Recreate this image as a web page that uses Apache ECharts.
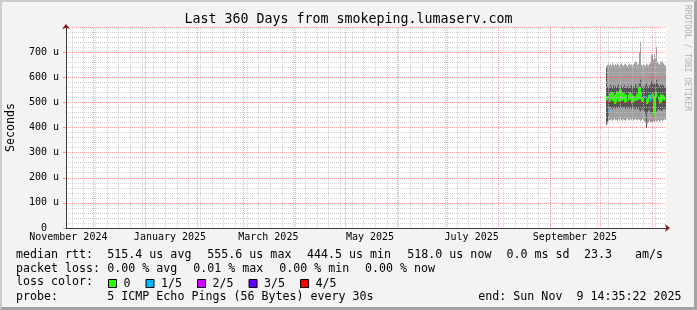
<!DOCTYPE html>
<html><head><meta charset="utf-8">
<script src="https://cdn.jsdelivr.net/npm/echarts@6/dist/echarts.min.js"></script>
<style>
html,body{margin:0;padding:0;background:#f3f3f3;}
#wrap{position:relative;width:697px;height:310px;overflow:hidden;}
#chart{position:absolute;left:0;top:0;width:697px;height:310px;}
#frame{position:absolute;left:0;top:0;width:697px;height:310px;box-sizing:border-box;border-top:2px solid #cccccc;border-left:2px solid #cccccc;border-right:3px solid #a3a3a3;border-bottom:3px solid #a3a3a3;pointer-events:none;}
</style></head>
<body><div id="wrap"><div id="chart"></div><div id="frame"></div></div>
<script>
// ---- time range ----
const rangeStart = '2024-11-14T14:35:22Z';
const rangeEnd = '2025-11-09T14:35:22Z';
const sampleStart = '2025-10-04T14:35:22Z';
const sampleStepSeconds = 51840;

// ---- smoke: sorted pings (microseconds), one value per consolidated step ----
const pingHigh = [643,650,655,648,652,645,657,650,646,653, 648,655,650,644,652,656,649,645,651,654, 648,643,650,655,647,652,645,650,656,663, 663,648,655,700,742,650,646,652,648,645, 655,650,647,653,660,690,688,670,692,675, 722,660,655,650,663,660,665,655,650,645];
const pingUpper = [643,560,565,558,570,562,555,568,560,565, 558,563,570,556,562,566,559,561,568,557, 563,560,566,558,562,569,557,563,560,572, 565,560,566,575,590,562,558,566,560,568, 575,563,558,566,570,585,578,570,575,572, 590,575,568,563,570,566,572,565,561,560];
const medianRtt = [523,512,466,505,532,515,538,508,525,498, 530,540,515,505,548,522,510,535,518,502, 528,506,510,526,536,514,500,524,512,508, 520,530,512,559,540,516,505,512,520,522, 510,498,514,526,505,528,536,518,450,522, 538,530,520,512,500,528,510,526,516,512];
const pingLower = [411,425,445,482,476,480,473,479,483,475, 480,477,484,478,473,480,476,482,479,474, 481,477,483,476,480,475,482,478,473,476, 480,474,478,470,465,476,472,470,466,455, 400,460,468,472,455,462,458,444,460,468, 463,470,474,468,472,466,470,475,472,476];
const pingLow = [411,415,425,430,428,432,426,430,435,428, 431,426,433,429,436,430,427,433,430,425, 432,436,428,431,434,429,433,427,431,435, 430,428,433,431,426,430,434,428,425,420, 398,415,420,425,418,422,418,425,420,428, 424,426,430,422,427,431,426,429,433,430];
const lostPings = [0,0,1,0,0,0,0,0,0,0, 0,0,0,0,0,0,0,0,0,0, 0,1,0,0,0,0,0,0,0,0, 0,0,0,0,0,0,0,0,1,1, 0,0,0,0,1,1,0,0,0,0, 0,1,0,0,0,0,0,0,0,0];

const lossLabels = ['0', '1/5', '2/5', '3/5', '4/5'];
const lossColors = ['#26ff00', '#00b8ff', '#d200ff', '#5e00ff', '#ff0000'];

// ---- axis ticks ----
const monthStarts = ['2024-12-01','2025-01-01','2025-02-01','2025-03-01','2025-04-01','2025-05-01','2025-06-01','2025-07-01','2025-08-01','2025-09-01','2025-10-01','2025-11-01'];
const monthLabelDates = ['2024-11-16','2025-01-16','2025-03-16','2025-05-16','2025-07-16','2025-09-16'];
const firstMonday = '2024-11-18';
const monthNames = ['January','February','March','April','May','June','July','August','September','October','November','December'];
const yMin = 0, yMax = 800, yStep = 100;

// ---- legend text ----
const titleText = 'Last 360 Days from smokeping.lumaserv.com';
const rowMedian = ['median rtt:', '515.4 us avg', '555.6 us max', '444.5 us min', '518.0 us now', '0.0 ms sd', '23.3', 'am/s'];
const rowLoss = ['packet loss:', '0.00 % avg', '0.01 % max', '0.00 % min', '0.00 % now'];
const rowLossColor = ['loss color:'];
const rowProbe = ['probe:', '5 ICMP Echo Pings (56 Bytes) every 30s', 'end: Sun Nov  9 14:35:22 2025'];
const sideText = 'RRDTOOL / TOBI OETIKER';

// ---------------------------------------------------------------
const MONO = '"DejaVu Sans Mono", monospace';
const START = Date.parse(rangeStart), END = Date.parse(rangeEnd);
const S0 = Date.parse(sampleStart), STEP = sampleStepSeconds * 1000;
const monthTicks = monthStarts.map(d => Date.parse(d + 'T00:00:00Z'));
const labelTicks = monthLabelDates.map(d => Date.parse(d + 'T00:00:00Z'));
const weekTicks = [];
for (let t = Date.parse(firstMonday + 'T00:00:00Z'); t < END; t += 7 * 86400000) weekTicks.push(t);

const smokeData = pingHigh.map((h, i) => [S0 + i * STEP, S0 + (i + 1) * STEP, pingLow[i], pingLower[i], pingUpper[i], h]);

const medianSeries = lossLabels.map((name, k) => {
  const data = [];
  medianRtt.forEach((m, i) => {
    if (lostPings[i] !== k) return;
    const prev = (i > 0 && lostPings[i - 1] === k) ? medianRtt[i - 1] : NaN;
    data.push([S0 + i * STEP, S0 + (i + 1) * STEP, m, prev]);
  });
  return {
    type: 'custom', name, z: 2, itemStyle: { color: lossColors[k] }, encode: { x: [0, 1], y: [2] }, data,
    renderItem(params, api) {
      const t0 = api.value(0), t1 = api.value(1), m = api.value(2), prev = api.value(3);
      const p0 = api.coord([t0, m]), p1 = api.coord([t1, m]);
      const pts = [];
      if (!isNaN(prev)) { const pp = api.coord([t0, prev]); pts.push([p0[0], pp[1]]); }
      pts.push(p0, p1);
      return { type: 'polyline', shape: { points: pts }, style: { stroke: lossColors[k], lineWidth: 2, fill: null } };
    }
  };
});

// dotted fill pattern (1px on / 1px off vertically) for vertical grid lines
function dotPattern(color) {
  const c = document.createElement('canvas'); c.width = 1; c.height = 2;
  const g = c.getContext('2d'); g.fillStyle = color; g.fillRect(0, 0, 1, 1);
  return { image: c, repeat: 'repeat' };
}
const majorGrid = 'rgba(255,0,0,0.38)';
const minorGrid = 'rgba(192,192,192,0.75)';
const majorPattern = dotPattern(majorGrid);
const minorPattern = dotPattern(minorGrid);

// vertical time grid lines as 1px filled columns (drawn over the smoke, like rrdtool)
function timeGridSeries(name, ticks, fill, z, below) {
  return {
    type: 'custom', name, z, silent: true, encode: { x: 0, y: 1 },
    data: ticks.map(t => [t, yMin]),
    renderItem(params, api) {
      const cs = params.coordSys;
      const x = Math.round(api.coord([api.value(0), yMin])[0]);
      return { type: 'rect', shape: { x: x, y: cs.y, width: 1, height: cs.height + below }, style: { fill: fill } };
    }
  };
}

function txt(x, y, s) {
  return { type: 'text', x, y, silent: true, style: { text: s, font: '11.65px ' + MONO, fill: '#000', verticalAlign: 'middle', align: 'left' } };
}
const rowY = [254.5, 268.5, 282.3, 296.5];
const medX = [16, 107.3, 207.3, 307, 407.3, 506.5, 584, 635];
const lossX = [16, 107.3, 193.3, 279.3, 365];
const probeX = [16, 107.3, 478.3];
const graphics = [];
rowMedian.forEach((s, i) => graphics.push(txt(medX[i], rowY[0], s)));
rowLoss.forEach((s, i) => graphics.push(txt(lossX[i], rowY[1], s)));
rowLossColor.forEach((s) => graphics.push(txt(16, rowY[2], s)));
rowProbe.forEach((s, i) => graphics.push(txt(probeX[i], rowY[3], s)));
graphics.push({ type: 'text', x: 687, y: 5, rotation: -Math.PI / 2, silent: true,
  style: { text: sideText, font: '8px ' + MONO, fill: '#b0b0b0', align: 'left', verticalAlign: 'middle' } });

const chart = echarts.init(document.getElementById('chart'), null, { renderer: 'canvas' });
chart.setOption({
  animation: false,
  backgroundColor: '#f3f3f3',
  title: { text: titleText, left: 'center', top: 12, padding: 0,
    textStyle: { fontFamily: MONO, fontSize: 13.3, fontWeight: 'normal', color: '#000', lineHeight: 15 } },
  grid: { left: 66, top: 27, width: 600, height: 201, show: true, backgroundColor: '#ffffff', borderWidth: 0,
    containLabel: false, outerBoundsMode: 'none' },
  legend: {
    data: lossLabels, left: 108, top: 277.5, padding: 0, itemWidth: 8, itemHeight: 8, itemGap: 15,
    icon: 'rect', selectedMode: false,
    itemStyle: { borderColor: '#000', borderWidth: 1 },
    textStyle: { fontFamily: MONO, fontSize: 11.65, color: '#000', padding: [0, 0, 0, 2] }
  },
  xAxis: [
    { type: 'value', min: START, max: END, position: 'bottom', z: 4,
      axisLine: { show: true, onZero: false, lineStyle: { color: '#3c3c3c', width: 1 } },
      axisTick: { show: false },
      axisLabel: { show: true, customValues: labelTicks, margin: 4, fontFamily: MONO, fontSize: 10, color: '#000',
        formatter: v => { const d = new Date(v); return monthNames[d.getUTCMonth()] + ' ' + d.getUTCFullYear(); } },
      splitLine: { show: false } },
    { type: 'value', min: START, max: END, position: 'bottom', z: 4,
      axisLine: { show: true, onZero: false, symbol: ['none', 'arrow'], symbolSize: [6, 5], symbolOffset: [0, 4],
        lineStyle: { color: '#8b1a1a', width: 0 } },
      axisTick: { show: false }, axisLabel: { show: false }, splitLine: { show: false } }
  ],
  yAxis: [
    { type: 'value', min: yMin, max: yMax, interval: yStep, position: 'left', z: 4,
      name: 'Seconds', nameLocation: 'middle', nameRotate: 90, nameGap: 49,
      nameTextStyle: { fontFamily: MONO, fontSize: 11.65, color: '#000' },
      axisLine: { show: true, onZero: false, lineStyle: { color: '#3c3c3c', width: 1 } },
      axisTick: { show: true, length: 3, lineStyle: { color: majorGrid } },
      axisLabel: { margin: 7, fontFamily: MONO, fontSize: 10, color: '#000',
        formatter: v => v === 0 ? '0  ' : (v >= yMax ? '' : v + ' u') },
      splitLine: { show: true, lineStyle: { color: majorGrid, type: [1, 1], width: 1 } },
      minorTick: { show: false, splitNumber: 5 },
      minorSplitLine: { show: true, lineStyle: { color: minorGrid, type: [1, 1], width: 1 } } },
    { type: 'value', min: yMin, max: yMax, interval: yStep, position: 'left', z: 4,
      axisLine: { show: true, onZero: false, symbol: ['none', 'arrow'], symbolSize: [6, 5], symbolOffset: [0, 3],
        lineStyle: { color: '#8b1a1a', width: 0 } },
      axisTick: { show: false }, axisLabel: { show: false }, splitLine: { show: false } }
  ],
  series: [
    { type: 'custom', name: 'smoke', z: 1, encode: { x: [0, 1], y: [2, 3, 4, 5] }, data: smokeData,
      renderItem(params, api) {
        const t0 = api.value(0), t1 = api.value(1);
        const a = api.coord([t0, api.value(5)]), b = api.coord([t1, api.value(2)]);
        const c = api.coord([t0, api.value(4)]), d = api.coord([t1, api.value(3)]);
        return { type: 'group', children: [
          { type: 'rect', shape: { x: a[0], y: a[1], width: b[0] - a[0], height: b[1] - a[1] }, style: { fill: '#a0a0a0' } },
          { type: 'rect', shape: { x: c[0], y: c[1], width: d[0] - c[0], height: d[1] - c[1] }, style: { fill: '#555555' } }
        ] };
      } },
    timeGridSeries('weeks', weekTicks, minorPattern, 3, 0),
    timeGridSeries('months', monthTicks, majorPattern, 3.5, 2)
  ].concat(medianSeries),
  graphic: graphics
});
</script></body></html>
